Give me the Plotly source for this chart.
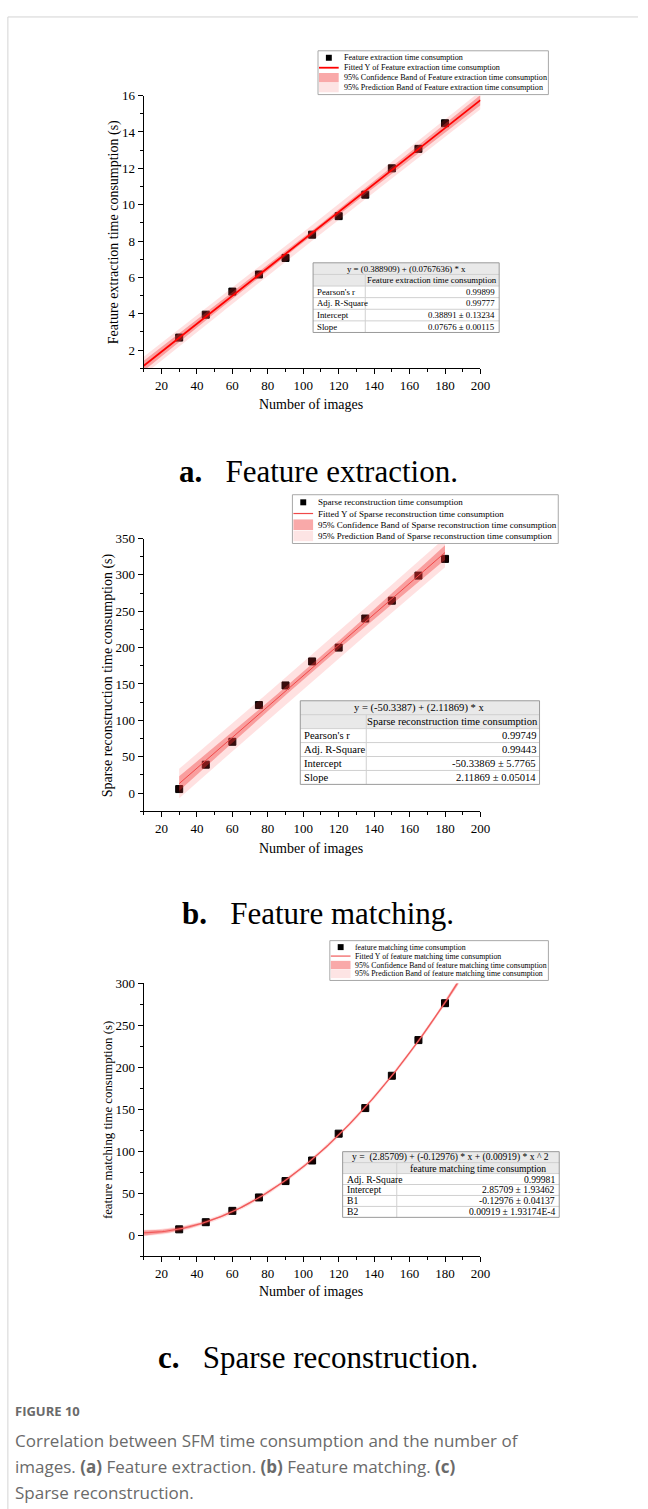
import numpy as np
import plotly.graph_objects as go

W, H = 648, 1509

# ---------------- data ----------------
n_images = [30, 45, 60, 75, 90, 105, 120, 135, 150, 165, 180]
feature_extraction_s = [2.69, 3.95, 5.22, 6.16, 7.07, 8.35, 9.37, 10.55, 12.0, 13.07, 14.48]
sparse_reconstruction_s = [5.5, 39, 70.5, 121, 148, 181, 200, 240, 264.5, 299, 322]
feature_matching_s = [7, 15.5, 29, 45, 64.5, 89, 121, 151.5, 190, 232.5, 276.5]

x_ticks = [20, 40, 60, 80, 100, 120, 140, 160, 180, 200]

table_a_formula = "y = (0.388909) + (0.0767636) * x"
table_a_header = "Feature extraction time consumption"
table_a_rows = [("Pearson's r", "0.99899"), ("Adj. R-Square", "0.99777"),
                ("Intercept", "0.38891 ± 0.13234"), ("Slope", "0.07676 ± 0.00115")]

table_b_formula = "y = (-50.3387) + (2.11869) * x"
table_b_header = "Sparse reconstruction time consumption"
table_b_rows = [("Pearson's r", "0.99749"), ("Adj. R-Square", "0.99443"),
                ("Intercept", "-50.33869 ± 5.7765"), ("Slope", "2.11869 ± 0.05014")]

table_c_formula = "y =  (2.85709) + (-0.12976) * x + (0.00919) * x ^ 2"
table_c_header = "feature matching time consumption"
table_c_rows = [("Adj. R-Square", "0.99981"), ("Intercept", "2.85709 ± 1.93462"),
                ("B1", "-0.12976 ± 0.04137"), ("B2", "0.00919 ± 1.93174E-4")]

legend_a = ["Feature extraction time consumption",
            "Fitted Y of Feature extraction time consumption",
            "95% Confidence Band of Feature extraction time consumption",
            "95% Prediction Band of Feature extraction time consumption"]
legend_b = ["Sparse reconstruction time consumption",
            "Fitted Y of Sparse reconstruction time consumption",
            "95% Confidence Band of Sparse reconstruction time consumption",
            "95% Prediction Band of Sparse reconstruction time consumption"]
legend_c = ["feature matching time consumption",
            "Fitted Y of feature matching time consumption",
            "95% Confidence Band of feature matching time consumption",
            "95% Prediction Band of feature matching time consumption"]

SERIF = "Liberation Serif, Times New Roman, serif"
SANS = "Open Sans, Lato, sans-serif"


def px(x):
    return x / W


def py(y):
    return 1 - y / H


def txt(x, y, text, size, family=SERIF, color="black", xanchor="center", yanchor="middle", angle=0):
    return dict(x=px(x), y=py(y), xref="paper", yref="paper", text=text, showarrow=False,
                xanchor=xanchor, yanchor=yanchor, textangle=angle,
                font=dict(family=family, size=size, color=color))


def fit_bands(x, y, deg, xs, tval):
    x = np.asarray(x, float)
    y = np.asarray(y, float)
    X = np.vander(x, deg + 1, increasing=True)
    beta, *_ = np.linalg.lstsq(X, y, rcond=None)
    resid = y - X @ beta
    dof = len(x) - (deg + 1)
    s2 = resid @ resid / dof
    XtXi = np.linalg.inv(X.T @ X)
    Xs = np.vander(xs, deg + 1, increasing=True)
    yhat = Xs @ beta
    h = np.einsum("ij,jk,ik->i", Xs, XtXi, Xs)
    ci = tval * np.sqrt(s2 * h)
    pi = tval * np.sqrt(s2 * (1 + h))
    return yhat, ci, pi


panels = [
    dict(y=feature_extraction_s, deg=1, t=2.2622, xs=(10, 200), yr=[1, 16], dt=2, mdt=1,
         box=(146, 488, 89, 363), line="#ff0000", lw=1.8,
         ytitle="Feature extraction time consumption (s)", ytx=116, ytsize=14,
         xty=399, cap=("a.", "Feature extraction."), capy=467,
         legend=legend_a, lbox=(323, 557, 44, 88), lfs=8.1,
         table=(table_a_formula, table_a_header, table_a_rows), tbox=(318, 507, 257, 327), tdiv=371, tfs=8.8),
    dict(y=sparse_reconstruction_s, deg=1, t=2.2622, xs=(30, 180), yr=[-25, 350], dt=50, mdt=25,
         box=(146, 488, 534, 808), line="#f04848", lw=1.0,
         ytitle="Sparse reconstruction time consumption (s)", ytx=110, ytsize=14,
         xty=845, cap=("b.", "Feature matching."), capy=911,
         legend=legend_b, lbox=(297, 567, 490, 539), lfs=9.0,
         table=(table_b_formula, table_b_header, table_b_rows), tbox=(305, 548, 697, 781), tdiv=372, tfs=10.6),
    dict(y=feature_matching_s, deg=2, t=2.3060, xs=(10, 200), yr=[-25, 300], dt=50, mdt=25,
         box=(146, 488, 981, 1255), line="#f05a5a", lw=1.2,
         ytitle="feature matching time consumption (s)", ytx=110, ytsize=12.8,
         xty=1290, cap=("c.", "Sparse reconstruction."), capy=1357,
         legend=legend_c, lbox=(335, 557, 938, 978), lfs=7.8,
         table=(table_c_formula, table_c_header, table_c_rows), tbox=(348, 568, 1150, 1216), tdiv=403, tfs=9.6),
]

fig = go.Figure()
shapes = []
annotations = []

for i, p in enumerate(panels):
    k = "" if i == 0 else str(i + 1)
    xa, ya = "x" + k, "y" + k
    x0, x1, y0, y1 = p["box"]
    axis_common = dict(showline=True, linecolor="black", linewidth=1.3, ticks="outside",
                       ticklen=5, tickwidth=1.2, tickcolor="black", showgrid=False, zeroline=False,
                       tickfont=dict(family=SERIF, size=13, color="black"))
    fig.layout["xaxis" + k] = dict(domain=[px(x0), px(x1)], anchor=ya, range=[10, 200],
                                   tickmode="array", tickvals=x_ticks, **axis_common,
                                   minor=dict(ticks="outside", ticklen=3, tickwidth=1, tickcolor="black",
                                              tickmode="array", tickvals=list(range(10, 201, 10))))
    fig.layout["yaxis" + k] = dict(domain=[py(y1), py(y0)], anchor=xa, range=p["yr"],
                                   tick0=0, dtick=p["dt"], **axis_common,
                                   minor=dict(ticks="outside", ticklen=3, tickwidth=1, tickcolor="black",
                                              tick0=0, dtick=p["mdt"]))

    xs = np.linspace(p["xs"][0], p["xs"][1], 200)
    yhat, ci, pi = fit_bands(n_images, p["y"], p["deg"], xs, p["t"])

    # data markers
    fig.add_trace(go.Scatter(x=n_images, y=p["y"], mode="markers", xaxis=xa, yaxis=ya,
                             marker=dict(symbol="square", size=7, color="#150000",
                                         line=dict(color="black", width=1)),
                             showlegend=False))
    # 95% prediction band
    fig.add_trace(go.Scatter(x=np.concatenate([xs, xs[::-1]]),
                             y=np.concatenate([yhat + pi, (yhat - pi)[::-1]]),
                             fill="toself", fillcolor="rgba(255,70,70,0.16)", mode="lines",
                             line=dict(width=0), xaxis=xa, yaxis=ya, showlegend=False))
    # 95% confidence band
    fig.add_trace(go.Scatter(x=np.concatenate([xs, xs[::-1]]),
                             y=np.concatenate([yhat + ci, (yhat - ci)[::-1]]),
                             fill="toself", fillcolor="rgba(240,50,50,0.38)", mode="lines",
                             line=dict(width=0), xaxis=xa, yaxis=ya, showlegend=False))
    # fitted line
    fig.add_trace(go.Scatter(x=xs, y=yhat, mode="lines", xaxis=xa, yaxis=ya,
                             line=dict(color=p["line"], width=p["lw"]), showlegend=False))

    # axis titles and panel caption
    annotations.append(txt(p["ytx"], (y0 + y1) / 2, p["ytitle"], p["ytsize"], angle=-90))
    annotations.append(txt(316, p["xty"], "Number of images", 14))
    annotations.append(txt(323, p["capy"], "<b>%s</b>\u00a0\u00a0 %s" % p["cap"], 31))

    # legend box
    lx0, lx1, ly0, ly1 = p["lbox"]
    shapes.append(dict(type="rect", xref="paper", yref="paper", x0=px(lx0), x1=px(lx1),
                       y0=py(ly1), y1=py(ly0), fillcolor="white",
                       line=dict(color="#a8a8a8", width=1), layer="above"))
    rh = (ly1 - ly0 - 4) / 4
    sw0, sw1 = lx0 + 1, lx0 + 21
    for r, label in enumerate(p["legend"]):
        cy = ly0 + 2 + rh * (r + 0.5)
        if r == 0:
            shapes.append(dict(type="rect", xref="paper", yref="paper",
                               x0=px((sw0 + sw1) / 2 - 3), x1=px((sw0 + sw1) / 2 + 3),
                               y0=py(cy + 3), y1=py(cy - 3), fillcolor="black",
                               line=dict(width=0), layer="above"))
        elif r == 1:
            shapes.append(dict(type="line", xref="paper", yref="paper", x0=px(sw0), x1=px(sw1),
                               y0=py(cy), y1=py(cy), line=dict(color=p["line"], width=max(p["lw"], 1.2)),
                               layer="above"))
        else:
            col = "#f9a9a9" if r == 2 else "#fde4e4"
            shapes.append(dict(type="rect", xref="paper", yref="paper", x0=px(sw0), x1=px(sw1),
                               y0=py(cy + rh / 2 - 0.3), y1=py(cy - rh / 2 + 0.3), fillcolor=col,
                               line=dict(width=0), layer="above"))
        annotations.append(txt(sw1 + 3, cy, label, p["lfs"], xanchor="left"))

    # statistics table
    formula, header, rows = p["table"]
    tx0, tx1, ty0, ty1 = p["tbox"]
    trh = (ty1 - ty0) / 6
    shapes.append(dict(type="rect", xref="paper", yref="paper", x0=px(tx0), x1=px(tx1),
                       y0=py(ty0 + 2 * trh), y1=py(ty0), fillcolor="#e9e9e9",
                       line=dict(width=0), layer="above"))
    shapes.append(dict(type="rect", xref="paper", yref="paper", x0=px(tx0), x1=px(tx1),
                       y0=py(ty1), y1=py(ty0 + 2 * trh), fillcolor="white",
                       line=dict(width=0), layer="above"))
    for r in range(1, 6):
        yy = ty0 + trh * r
        shapes.append(dict(type="line", xref="paper", yref="paper", x0=px(tx0), x1=px(tx1),
                           y0=py(yy), y1=py(yy), line=dict(color="#d0d0d0", width=1), layer="above"))
    shapes.append(dict(type="line", xref="paper", yref="paper", x0=px(p["tdiv"]), x1=px(p["tdiv"]),
                       y0=py(ty0 + trh), y1=py(ty1), line=dict(color="#d0d0d0", width=1), layer="above"))
    shapes.append(dict(type="rect", xref="paper", yref="paper", x0=px(tx0), x1=px(tx1),
                       y0=py(ty1), y1=py(ty0), line=dict(color="#9a9a9a", width=1), layer="above"))
    annotations.append(txt((tx0 + tx1) / 2, ty0 + trh * 0.5, formula, p["tfs"]))
    annotations.append(txt((p["tdiv"] + tx1) / 2, ty0 + trh * 1.5, header, p["tfs"]))
    for r, (lab, val) in enumerate(rows):
        cy = ty0 + trh * (r + 2.5)
        annotations.append(txt(tx0 + 2, cy, lab, p["tfs"], xanchor="left"))
        annotations.append(txt(tx1 - 2, cy, val, p["tfs"], xanchor="right"))

# frame lines
shapes.append(dict(type="line", xref="paper", yref="paper", x0=px(8), x1=px(8), y0=0, y1=py(10),
                   line=dict(color="#d4d4d4", width=1)))
shapes.append(dict(type="line", xref="paper", yref="paper", x0=px(8), x1=1, y0=py(10), y1=py(10),
                   line=dict(color="#d4d4d4", width=1)))

# figure caption
annotations.append(txt(13, 1411, "<b>FIGURE 10</b>", 13, family=SANS, color="#6a6a6a", xanchor="left"))
cap_lines = ["Correlation between SFM time consumption and the number of",
             "images. <b>(a)</b> Feature extraction. <b>(b)</b> Feature matching. <b>(c)</b>",
             "Sparse reconstruction."]
for j, t in enumerate(cap_lines):
    annotations.append(txt(13, 1440 + 26 * j, t, 17, family=SANS, color="#6a6a6a", xanchor="left"))

fig.update_layout(width=W, height=H, margin=dict(l=0, r=0, t=0, b=0),
                  paper_bgcolor="white", plot_bgcolor="white",
                  shapes=shapes, annotations=annotations, showlegend=False)

fig.write_html("out.html", post_script="document.body.style.margin='0px';")
